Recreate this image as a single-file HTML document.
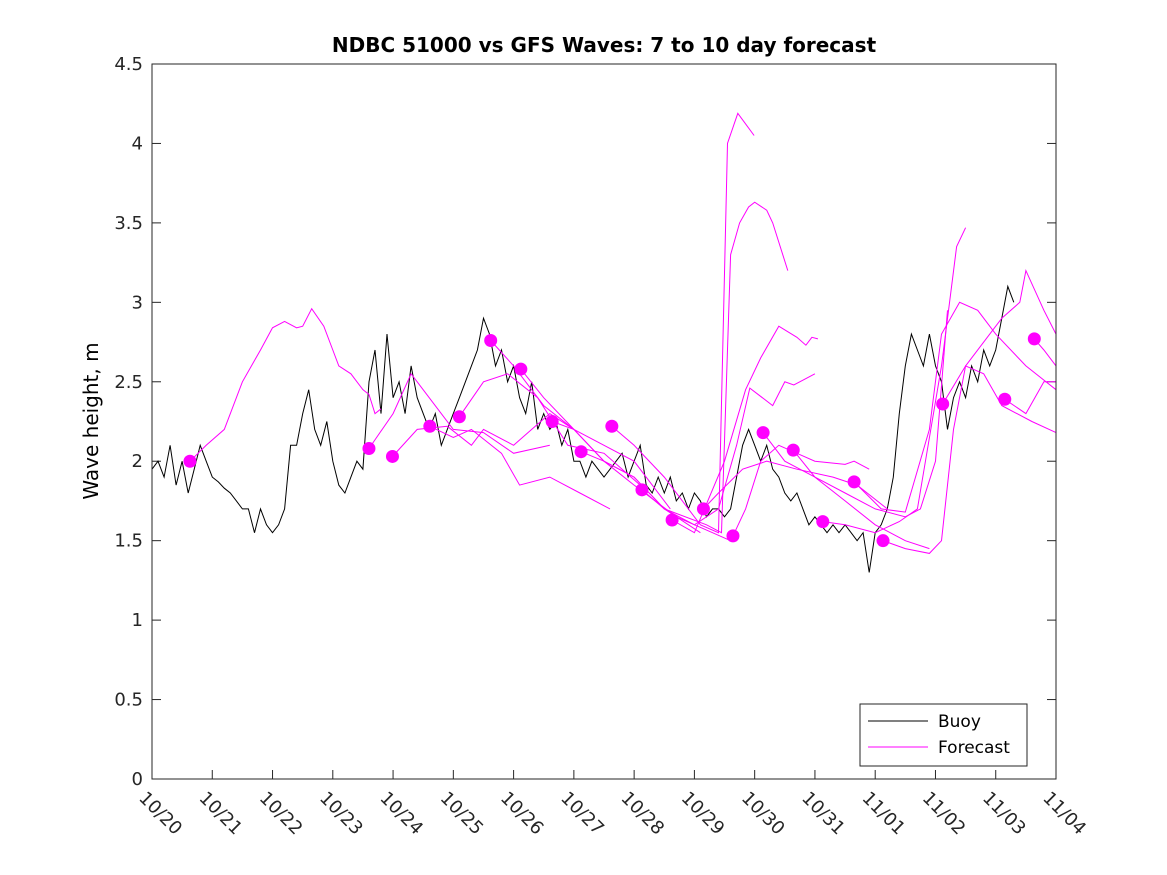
<!DOCTYPE html>
<html><head><meta charset="utf-8">
<style>
body{margin:0;background:#fff;}
svg{display:block;font-family:"DejaVu Sans","Liberation Sans",sans-serif;}
</style></head>
<body>
<svg id="chart" width="1167" height="875" viewBox="0 0 1167 875" xmlns="http://www.w3.org/2000/svg">
<rect width="1167" height="875" fill="#fff"/>
<text x="604" y="52" text-anchor="middle" font-size="20" font-weight="bold">NDBC 51000 vs GFS Waves: 7 to 10 day forecast</text>
<text x="98" y="421" text-anchor="middle" font-size="20" transform="rotate(-90 98 421)">Wave height, m</text>
<g id="plot"></g>
<rect x="152" y="64" width="904" height="715" fill="none" stroke="#262626" stroke-width="1"/>
<g>
<rect x="860" y="704" width="167" height="62" fill="#fff" stroke="#262626"/>
<line x1="868" y1="721" x2="928" y2="721" stroke="#000"/>
<text x="938" y="727" font-size="17">Buoy</text>
<line x1="868" y1="747" x2="928" y2="747" stroke="#ff00ff"/>
<text x="938" y="753" font-size="17">Forecast</text>
</g>
</svg>
<script>
const yTicks=[0,0.5,1,1.5,2,2.5,3,3.5,4,4.5];
const xTickLabels=["10/20","10/21","10/22","10/23","10/24","10/25","10/26","10/27","10/28","10/29","10/30","10/31","11/01","11/02","11/03","11/04"];
// buoy values every 0.1 day from day 0
const buoyStep=0.1;
const buoyValues=[1.95,2.0,1.9,2.1,1.85,2.0,1.8,1.95,2.1,2.0,
1.9,1.87,1.83,1.8,1.75,1.7,1.7,1.55,1.7,1.6,
1.55,1.6,1.7,2.1,2.1,2.3,2.45,2.2,2.1,2.25,
2.0,1.85,1.8,1.9,2.0,1.95,2.5,2.7,2.3,2.8,
2.4,2.5,2.3,2.6,2.4,2.3,2.2,2.3,2.1,2.2,
2.3,2.4,2.5,2.6,2.7,2.9,2.8,2.6,2.7,2.5,
2.6,2.4,2.3,2.5,2.2,2.3,2.2,2.25,2.1,2.2,
2.0,2.0,1.9,2.0,1.95,1.9,1.95,2.0,2.05,1.9,
2.0,2.1,1.85,1.8,1.9,1.8,1.9,1.75,1.8,1.7,
1.8,1.75,1.65,1.7,1.7,1.65,1.7,1.9,2.1,2.2,
2.1,2.0,2.1,1.95,1.9,1.8,1.75,1.8,1.7,1.6,
1.65,1.6,1.55,1.6,1.55,1.6,1.55,1.5,1.55,1.3,
1.55,1.6,1.7,1.9,2.3,2.6,2.8,2.7,2.6,2.8,
2.6,2.5,2.2,2.4,2.5,2.4,2.6,2.5,2.7,2.6,
2.7,2.9,3.1,3.0];
const fcDays=[
[0.63,0.9,1.2,1.5,1.8,2.0,2.2,2.4,2.5,2.65,2.85,3.0,3.1,3.3,3.5,3.6,3.7,3.8],
[3.6,4.0,4.3,4.6,5.0,5.5,6.0,6.6],
[3.99,4.4,4.9,5.3,5.5,6.0,6.3,6.6,7.0],
[4.61,5.0,5.3,5.8,6.1,6.6,7.1,7.6],
[5.1,5.5,5.9,6.4,6.9,7.5,8.1],
[5.62,6.0,6.5,7.0,7.5,8.0,8.6],
[6.12,6.5,7.0,7.5,8.0,8.5,9.1],
[6.64,7.0,7.5,8.0,8.7,9.3,9.6],
[7.12,7.5,8.0,8.5,9.2,9.45,9.6,9.75,9.9,10.0,10.2,10.3,10.55],
[7.63,8.0,8.5,9.1,9.4,9.55,9.72,9.99],
[8.13,8.5,9.0,9.4,9.7,9.92,10.3,10.5,10.65,11.0],
[8.63,9.0,9.5,9.85,10.1,10.4,10.7,10.85,10.95,11.05],
[9.15,9.4,9.8,10.2,10.7,11.3,11.7,12.2],
[9.64,9.85,10.1,10.4,10.7,11.0,11.5,11.65,11.9],
[10.14,10.5,11.0,11.5,12.0,12.5,12.75,13.0,13.2],
[10.64,11.0,11.5,12.0,12.5,12.9],
[11.13,11.5,12.0,12.4,12.7,13.1,13.35,13.5],
[11.65,12.1,12.5,12.9,13.1,13.4,13.7,14.0,14.5,15.0],
[12.13,12.5,12.9,13.1,13.3,13.5,13.8,14.1,14.6,15.0],
[13.12,13.5,14.1,14.4,14.5,14.8,15.0],
[14.15,14.5,14.8,15.0],
[14.64,14.8,15.0]];
const fcValues=[
[2.0,2.1,2.2,2.5,2.7,2.84,2.88,2.84,2.85,2.96,2.85,2.7,2.6,2.55,2.45,2.42,2.3,2.33],
[2.08,2.3,2.55,2.4,2.2,2.18,2.05,2.1],
[2.03,2.2,2.22,2.1,2.2,2.1,2.2,2.3,2.2],
[2.22,2.15,2.2,2.05,1.85,1.9,1.8,1.7],
[2.28,2.5,2.55,2.4,2.1,2.05,1.85],
[2.76,2.6,2.35,2.2,2.1,2.0,1.7],
[2.58,2.4,2.2,2.0,1.9,1.7,1.55],
[2.25,2.2,2.0,1.85,1.65,1.55,1.5],
[2.06,2.0,1.9,1.7,1.6,1.55,3.3,3.5,3.6,3.63,3.58,3.5,3.2],
[2.22,2.1,1.9,1.6,1.55,4.0,4.19,4.05],
[1.82,1.7,1.6,1.7,2.1,2.46,2.35,2.5,2.48,2.55],
[1.63,1.55,2.0,2.45,2.65,2.85,2.78,2.73,2.78,2.77],
[1.70,1.8,1.95,2.0,1.95,1.9,1.85,1.7],
[1.53,1.7,2.0,2.1,2.05,2.0,1.98,2.0,1.95],
[2.18,2.0,1.9,1.8,1.7,1.65,1.7,2.0,2.95],
[2.07,1.9,1.75,1.6,1.5,1.45],
[1.62,1.6,1.55,1.62,1.7,2.6,3.35,3.47],
[1.87,1.7,1.68,2.2,2.8,3.0,2.95,2.8,2.6,2.45],
[1.50,1.45,1.42,1.5,2.2,2.6,2.55,2.35,2.25,2.18],
[2.36,2.6,2.9,3.0,3.2,2.95,2.8],
[2.39,2.3,2.5,2.5],
[2.77,2.7,2.6]];
const NS="http://www.w3.org/2000/svg";
const X0=152,X1=1056,Y0=779,Y1=64,DAYS=15,YMAX=4.5;
function xs(d){return X0+(X1-X0)*d/DAYS;}
function ys(v){return Y0-(Y0-Y1)*v/YMAX;}
const g=document.getElementById('plot');
function mk(t,a){const e=document.createElementNS(NS,t);for(const k in a)e.setAttribute(k,a[k]);g.appendChild(e);return e;}
yTicks.forEach(v=>{
  const t=mk('line',{x1:X0,x2:X0+9,y1:ys(v),y2:ys(v),stroke:'#262626'});
  
  
  const t2=mk('line',{x1:X1,x2:X1-9,y1:ys(v),y2:ys(v),stroke:'#262626'});
  
  
  const l=mk('text',{x:X0-9,y:ys(v)+6,'text-anchor':'end','font-size':18,fill:'#262626'});
  l.textContent=String(v);
  
  
});
xTickLabels.forEach((s,i)=>{
  const x=xs(i);
  const t=mk('line',{x1:x,x2:x,y1:Y0,y2:Y0-9,stroke:'#262626'});
  
  
  const l=mk('text',{x:x-14,y:Y0+20,'font-size':18,fill:'#262626',transform:`rotate(45 ${x-14} ${Y0+20})`});
  l.textContent=s;
  
  
});
const bp=buoyValues.map((v,i)=>xs(i*buoyStep).toFixed(1)+','+ys(v).toFixed(1)).join(' ');
const bl=mk('polyline',{points:bp,fill:'none',stroke:'#000','stroke-width':1});


fcDays.forEach((ds,k)=>{
  const p=ds.map((d,i)=>xs(d).toFixed(1)+','+ys(fcValues[k][i]).toFixed(1)).join(' ');
  const l=mk('polyline',{points:p,fill:'none',stroke:'#ff00ff','stroke-width':1});
  
  
});
fcDays.forEach((ds,k)=>{
  const c=mk('circle',{cx:xs(ds[0]),cy:ys(fcValues[k][0]),r:6.5,fill:'#ff00ff'});
  
  
});
</script>
</body></html>
